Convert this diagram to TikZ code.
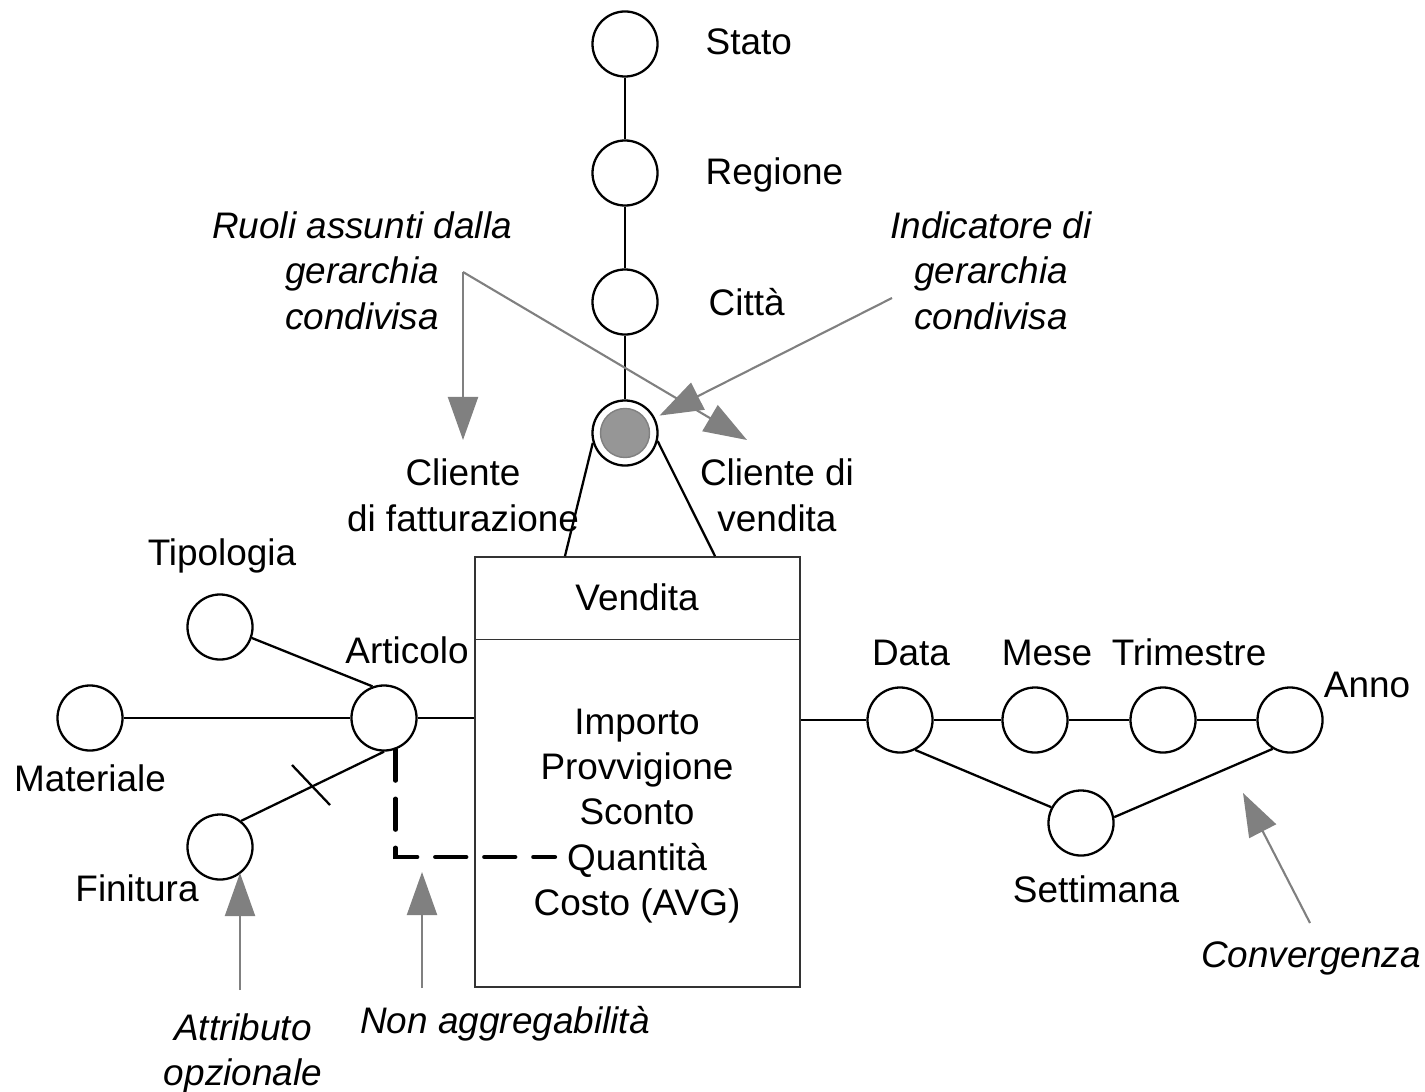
\documentclass[tikz,border=0pt]{standalone}
\usepackage{fontspec}
\setmainfont{Liberation Sans}
\usetikzlibrary{arrows.meta}
\definecolor{pointgray}{RGB}{128,128,128}
\definecolor{fillgray}{RGB}{150,150,150}
\tikzstyle{every node}=[font=\fontsize{10.5}{12.8}\selectfont]
\tikzstyle{attr}=[draw,circle,line width=0.65pt,minimum size=0.65cm,inner sep=0pt]
\tikzstyle{link}=[line width=0.65pt]
\tikzstyle{lbl}=[anchor=base,inner sep=0pt]
\tikzstyle{note}=[anchor=base,inner sep=0pt,align=center,font=\fontsize{10.5}{12.8}\selectfont\itshape]
\tikzstyle{pointer}=[pointgray,line width=0.6pt,-{Triangle[length=0.43cm,width=0.3cm]}]
\tikzstyle{nonagg}=[line width=1.2pt,line cap=round,dash pattern=on 0.31cm off 0.18cm]
\tikzstyle{factbox}=[draw=black!80,line width=0.4pt,minimum width=3.25cm,minimum height=4.3cm,inner sep=0pt]

\begin{document}
\begin{tikzpicture}[x=0.01cm,y=-0.01cm]
\useasboundingbox (0,0) rectangle (1425,1091);

% gerarchia condivisa
\node[attr] (stato) at (625,44) {};
\node[attr] (regione) at (625,173) {};
\node[attr] (citta) at (625,302) {};
\node[attr] (cond) at (625,433) {};
\node[circle,fill=fillgray,draw=pointgray,minimum size=0.49cm,inner sep=0pt] (condin) at (cond) {};
\draw[link] (stato) -- (regione) -- (citta) -- (cond);
\node[lbl,anchor=base west] (statolbl) at (705,55) {Stato};
\node[lbl,anchor=base west] (regionelbl) at (705,185) {Regione};
\node[lbl,anchor=base west] (cittalbl) at (708,315) {Città};

% fatto
\node[factbox] (fatto) at (637.5,772) {};
\draw[draw=black!80,line width=0.4pt] ([yshift=-0.83cm]fatto.north west) -- ([yshift=-0.83cm]fatto.north east);
\node[lbl] (vendita) at (637,610) {Vendita};
\node[lbl,align=center] (misure) at (637,915) {Importo\\Provvigione\\Sconto\\Quantità\\Costo (AVG)};
\coordinate (ruolo1) at ([xshift=-0.725cm]fatto.north);
\coordinate (ruolo2) at ([xshift=0.775cm]fatto.north);
\draw[link] (cond.197) -- (ruolo1);
\draw[link] (cond.-14) -- (ruolo2);
\node[lbl,align=center] (clifatt) at (463,531) {Cliente\\di fatturazione};
\node[lbl,align=center] (clivend) at (777,531) {Cliente di\\vendita};

% articolo
\node[attr] (articolo) at (384,718) {};
\node[attr] (tipologia) at (220,627) {};
\node[attr] (materiale) at (90,718) {};
\node[attr] (finitura) at (220,847) {};
\draw[link] (articolo) -- (articolo -| fatto.west);
\draw[link] (tipologia.-19) -- (articolo.110);
\draw[link] (materiale) -- (articolo);
\draw[link] (finitura.51) -- (articolo.south);
\draw[link] (292,765) -- (330,805);
\node[lbl] (articololbl) at (407,663) {Articolo};
\node[lbl] (tipologialbl) at (222,565) {Tipologia};
\node[lbl] (materialelbl) at (90,791) {Materiale};
\node[lbl] (finituralbl) at (137,901) {Finitura};
\coordinate (qend) at (555,857);
\draw[nonagg] (articolo.-70) |- (qend);

% tempo
\node[attr] (data) at (900,720) {};
\node[attr] (mese) at (1035,720) {};
\node[attr] (trimestre) at (1163,720) {};
\node[attr] (anno) at (1290,720) {};
\node[attr] (settimana) at (1081,823) {};
\draw[link] (fatto.east |- data) -- (data) -- (mese) -- (trimestre) -- (anno);
\draw[link] (data.-63) -- (settimana.152);
\draw[link] (settimana.10) -- (anno.239);
\node[lbl] (datalbl) at (911,665) {Data};
\node[lbl] (meselbl) at (1047,665) {Mese};
\node[lbl] (trimestrelbl) at (1189,665) {Trimestre};
\node[lbl] (annolbl) at (1367,697) {Anno};
\node[lbl] (settimanalbl) at (1096,902) {Settimana};

% annotazioni
\node[note] (ruoli) at (362,329) {Ruoli assunti dalla\\gerarchia\\condivisa};
\node[note] (indicatore) at (991,329) {Indicatore di\\gerarchia\\condivisa};
\node[note] (conv) at (1311,967) {Convergenza};
\node[note] (nonagglbl) at (505,1033) {Non aggregabilità};
\node[note] (opz) at (243,1085) {Attributo\\opzionale};
\coordinate (ruolitail) at (463,272);
\coordinate (ruolitip1) at (463,440);
\coordinate (ruolitip2) at (747,440);
\coordinate (indtail) at (892,298);
\coordinate (convtail) at (1310,923);
\coordinate (convtip) at (1243,793);
\coordinate (nonaggtail) at (422,988);
\coordinate (nonaggtip) at (422,872);
\coordinate (opztail) at (240,990);
\coordinate (opztip) at (240,873);
\draw[pointer] (ruolitail) -- (ruolitip1);
\draw[pointer] (ruolitail) -- (ruolitip2);
\draw[pointer,shorten >=0.05cm] (indtail) -- (cond);
\draw[pointer] (convtail) -- (convtip);
\draw[pointer] (nonaggtail) -- (nonaggtip);
\draw[pointer] (opztail) -- (opztip);
\end{tikzpicture}
\end{document}
